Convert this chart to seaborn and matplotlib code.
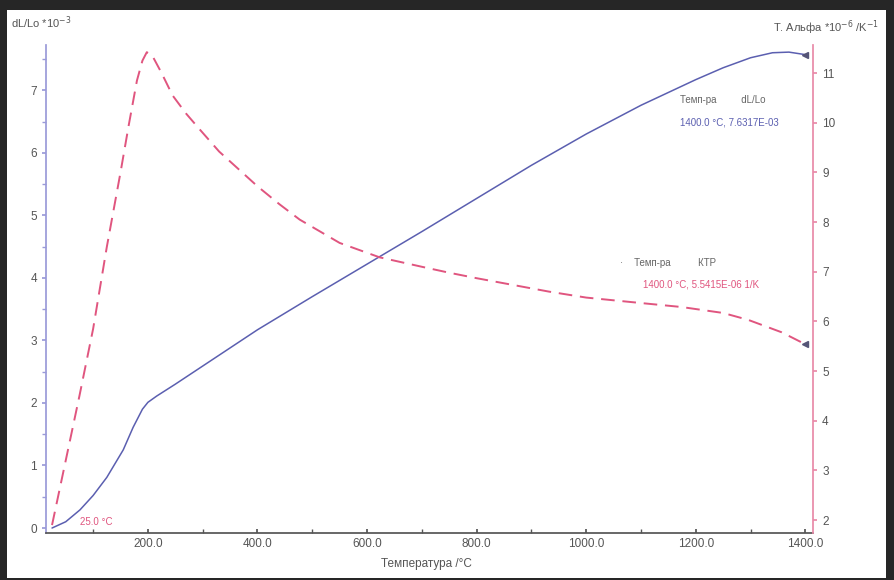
import numpy as np
import pandas as pd
import matplotlib.pyplot as plt
import seaborn as sns
from matplotlib.patches import Rectangle

# --- data ---
temp_dl = [25, 50, 76, 100, 125, 155, 173, 190, 200, 216, 250, 300, 350, 400, 500,
           600, 700, 800, 900, 1000, 1100, 1200, 1250, 1300, 1340, 1370, 1400]
dl_lo = [0.0, 0.1, 0.29, 0.52, 0.81, 1.25, 1.61, 1.9, 2.01, 2.11, 2.3, 2.59, 2.88,
         3.17, 3.7, 4.22, 4.74, 5.27, 5.8, 6.3, 6.76, 7.17, 7.36, 7.52, 7.6, 7.61, 7.57]

temp_a = [25, 50, 75, 100, 125, 150, 165, 180, 190, 198, 208, 225, 245, 270, 295,
          330, 368, 400, 440, 477, 550, 623, 700, 750, 800, 932, 1000, 1100, 1174,
          1250, 1296, 1357, 1400]
alpha = [1.9, 3.2, 4.5, 5.85, 7.5, 9.0, 9.95, 10.85, 11.25, 11.42, 11.35, 11.0,
         10.55, 10.18, 9.86, 9.42, 9.04, 8.72, 8.36, 8.05, 7.58, 7.29, 7.1, 6.98,
         6.87, 6.6, 6.48, 6.37, 6.29, 6.17, 6.03, 5.78, 5.54]

df_dl = pd.DataFrame({"T": temp_dl, "dl": dl_lo})
df_a = pd.DataFrame({"T": temp_a, "a": alpha})

blue = "#5b5fb0"
pink = "#e0557f"

sns.set_theme(style="white")
plt.rcParams["font.family"] = ["Liberation Sans", "DejaVu Sans"]

fig = plt.figure(figsize=(8.95, 5.8), dpi=100, facecolor="#262626")
fig.patches.append(Rectangle((0.008, 0.004), 0.982, 0.979, transform=fig.transFigure,
                             facecolor="white", edgecolor="none", zorder=-10))

ax = fig.add_axes([0.0514, 0.081, 0.857, 0.841])
ax.set_facecolor("none")
ax2 = ax.twinx()
ax2.set_facecolor("none")

sns.lineplot(data=df_dl, x="T", y="dl", ax=ax, color=blue, linewidth=1.1)
sns.lineplot(data=df_a, x="T", y="a", ax=ax2, color=pink, linewidth=1.4)
ax2.lines[0].set_dashes([7, 4])
ax.plot(temp_dl[-1], dl_lo[-1], marker="<", color="#555577", markersize=4)
ax2.plot(temp_a[-1], alpha[-1], marker="<", color="#555577", markersize=4)

ax.set_xlim(14, 1414)
ax.set_ylim(-0.08, 7.72)
ax2.set_ylim(1.74, 11.56)

ax.set_xticks([200, 400, 600, 800, 1000, 1200, 1400])
ax.set_xticklabels(["200.0", "400.0", "600.0", "800.0", "1000.0", "1200.0", "1400.0"])
ax.set_xticks([100, 300, 500, 700, 900, 1100, 1300], minor=True)
ax.set_yticks(range(0, 8))
ax.set_yticks(np.arange(0.5, 7.6, 0.5), minor=True)
ax2.set_yticks(range(2, 12))

for a in (ax, ax2):
    a.set_xlabel("")
    a.set_ylabel("")
    a.spines["top"].set_visible(False)
ax.spines["right"].set_visible(False)
ax.spines["left"].set_color("#9a9ad8")
ax.spines["bottom"].set_color("#555555")
ax2.spines["left"].set_visible(False)
ax2.spines["bottom"].set_visible(False)
ax2.spines["right"].set_color("#e88aa8")

ax.tick_params(axis="x", which="both", direction="in", length=3, colors="#555555",
               labelsize=8.5, labelcolor="#555555", bottom=True)
ax.tick_params(axis="y", which="both", direction="out", length=3, colors="#9a9ad8",
               labelsize=8.5, labelcolor="#555555", left=True)
ax2.tick_params(axis="y", direction="out", length=3, colors="#e88aa8",
                labelsize=8.5, labelcolor="#555555", right=True)

fig.text(0.012, 0.975, "dL/Lo *10$^{-3}$", fontsize=8, color="#555555", va="top")
fig.text(0.982, 0.968, "T. Альфа *10$^{-6}$ /K$^{-1}$", fontsize=8, color="#555555",
         va="top", ha="right")
fig.text(0.477, 0.023, "Температура /°C", fontsize=8.5, color="#555555", ha="center")

ax.text(0.827, 0.887, "Темп-ра         dL/Lo", transform=ax.transAxes, fontsize=7,
        color="#666666", va="center")
ax.text(0.827, 0.842, "1400.0 °C, 7.6317E-03", transform=ax.transAxes, fontsize=7,
        color=blue, va="center")
ax.text(0.748, 0.553, "·    Темп-ра          КТР", transform=ax.transAxes, fontsize=7,
        color="#666666", va="center")
ax.text(0.778, 0.51, "1400.0 °C, 5.5415E-06 1/K", transform=ax.transAxes, fontsize=7,
        color=pink, va="center")
ax.text(0.044, 0.0225, "25.0 °C", transform=ax.transAxes, fontsize=7, color=pink,
        va="center")

fig.savefig("out.png", dpi=100, facecolor=fig.get_facecolor())
